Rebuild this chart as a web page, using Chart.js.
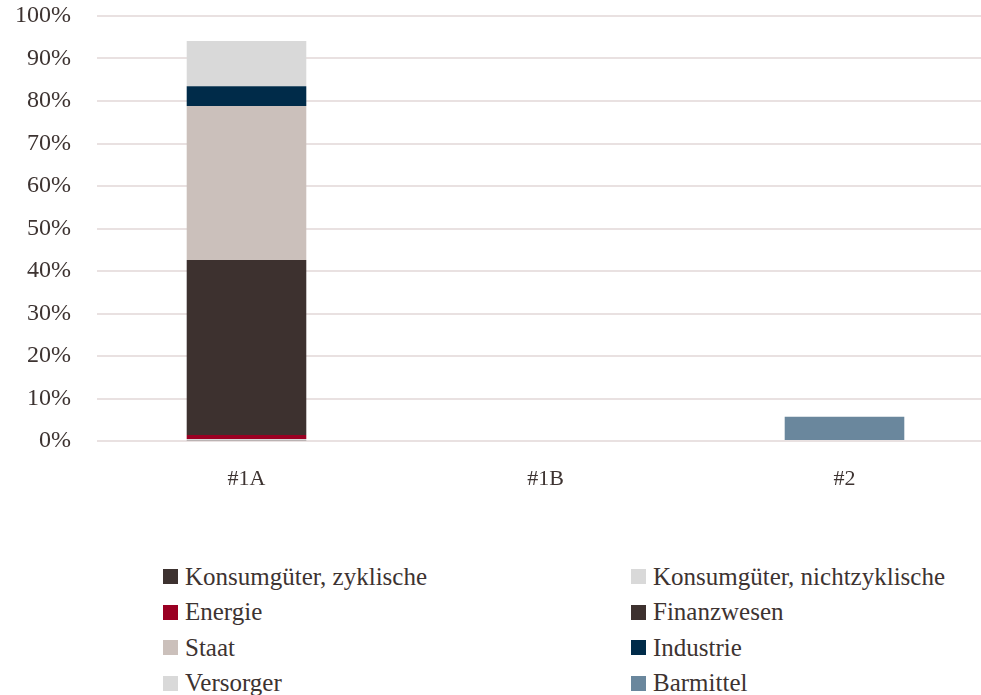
<!DOCTYPE html>
<html>
<head>
<meta charset="utf-8">
<script src="https://cdn.jsdelivr.net/npm/chart.js@4.4.1/dist/chart.umd.min.js"></script>
<style>
  html, body { margin: 0; padding: 0; background: #fff; overflow: hidden; }
  #wrap { position: absolute; left: 0; top: 0; width: 995px; height: 500px; }
  #legend {
    position: absolute; left: 163px; top: 559px;
    display: grid; grid-template-columns: 468px auto; grid-auto-rows: 35.5px;
    font-family: "Liberation Serif", "DejaVu Serif", serif; font-size: 25px; color: #3d3331;
  }
  #legend .item { display: flex; align-items: center; white-space: nowrap; }
  #legend .box { width: 15px; height: 15px; margin-right: 7px; flex: none; }
</style>
</head>
<body>
<div id="wrap"><canvas id="sektorChart"></canvas></div>
<div id="legend"></div>
<script>
// Kategorien
const categories = ["#1A", "#1B", "#2"];

// Anteile in %
const konsumZyklisch = [0.2, 0, 0];
const konsumNichtZyklisch = [0.3, 0, 0];
const energie = [0.9, 0, 0];
const finanzwesen = [41.2, 0, 0];
const staat = [36.2, 0, 0];
const industrie = [4.7, 0, 0];
const versorger = [10.6, 0, 0];
const barmittel = [0, 0, 5.7];

// Y-Achse
const yTicks = [0, 10, 20, 30, 40, 50, 60, 70, 80, 90, 100];

const textColor = "#3d3331";
const fontFamily = '"Liberation Serif", "DejaVu Serif", serif';

const datasets = [
  { label: "Konsumgüter, zyklische", data: konsumZyklisch, backgroundColor: "#3d3230" },
  { label: "Konsumgüter, nichtzyklische", data: konsumNichtZyklisch, backgroundColor: "#d9d9d9" },
  { label: "Energie", data: energie, backgroundColor: "#9a0023" },
  { label: "Finanzwesen", data: finanzwesen, backgroundColor: "#3d312f" },
  { label: "Staat", data: staat, backgroundColor: "#cbc0bb" },
  { label: "Industrie", data: industrie, backgroundColor: "#002b49" },
  { label: "Versorger", data: versorger, backgroundColor: "#d9d9d9" },
  { label: "Barmittel", data: barmittel, backgroundColor: "#6a879d" },
];

const config = {
  type: "bar",
  data: {
    labels: categories,
    datasets: datasets.map((d) => ({
      ...d,
      categoryPercentage: 1,
      barPercentage: 0.4,
      borderWidth: 0,
    })),
  },
  options: {
    responsive: true,
    maintainAspectRatio: false,
    animation: false,
    layout: { padding: { top: 0, right: 1, bottom: 0, left: 0 } },
    plugins: {
      legend: { display: false },
      tooltip: { enabled: false },
    },
    scales: {
      x: {
        stacked: true,
        grid: { display: false },
        border: { display: false },
        ticks: {
          color: textColor,
          font: { family: fontFamily, size: 22 },
          padding: 17,
        },
        afterFit: function (scale) {
          scale.height = 59;
        },
      },
      y: {
        stacked: true,
        min: 0,
        max: 100,
        afterBuildTicks: function (scale) {
          scale.ticks = yTicks.map((v) => ({ value: v }));
        },
        grid: { color: "#e9e1e1", lineWidth: 2, drawTicks: false },
        border: { display: false },
        ticks: {
          color: textColor,
          font: { family: fontFamily, size: 24 },
          padding: 26,
          callback: function (value) {
            return value + "%";
          },
        },
        afterFit: function (scale) {
          scale.width = 97;
          scale.paddingTop = 16;
        },
      },
    },
  },
};

const chart = new Chart(document.getElementById("sektorChart"), config);

// Legende in zwei Spalten
const legendEl = document.getElementById("legend");
chart.data.datasets.forEach((ds) => {
  const item = document.createElement("div");
  item.className = "item";
  const box = document.createElement("span");
  box.className = "box";
  box.style.background = ds.backgroundColor;
  const txt = document.createElement("span");
  txt.textContent = ds.label;
  item.appendChild(box);
  item.appendChild(txt);
  legendEl.appendChild(item);
});
</script>
</body>
</html>
